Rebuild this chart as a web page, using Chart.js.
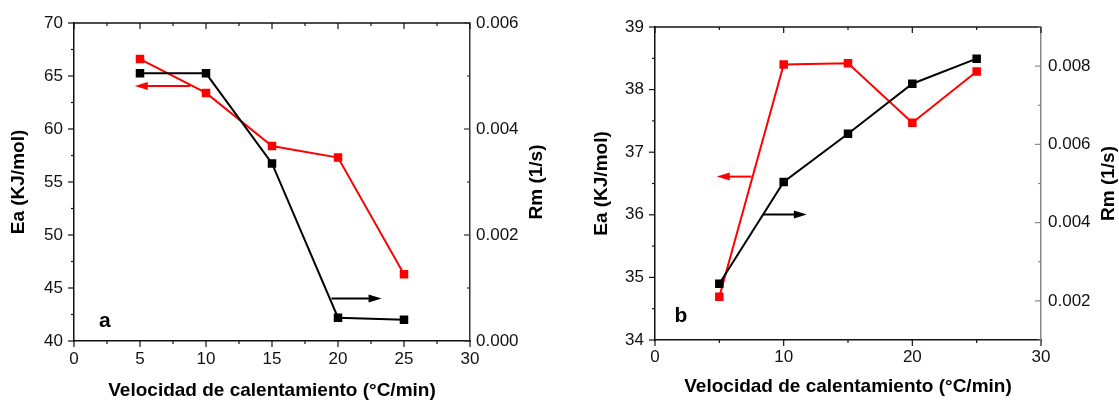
<!DOCTYPE html>
<html>
<head>
<meta charset="utf-8">
<script src="https://cdn.jsdelivr.net/npm/chart.js@4.4.1/dist/chart.umd.min.js"></script>
<style>
  body { margin: 0; background: #fff; }
  .panel { position: absolute; top: 0; height: 400px; }
  #boxA { left: 0; width: 560px; }
  #boxB { left: 560px; width: 559px; }
</style>
</head>
<body>
<div class="panel" id="boxA"><canvas id="chartA"></canvas></div>
<div class="panel" id="boxB"><canvas id="chartB"></canvas></div>
<script>
// heating rate (°C/min)
const rates = [5, 10, 15, 20, 25];

// panel a
const eaA = [66.6, 63.4, 58.4, 57.3, 46.3];
const rmA = [0.00505, 0.00505, 0.00335, 0.00044, 0.0004];
const rmTicksA = [0, 0.002, 0.004, 0.006];

// panel b
const eaB = [34.69, 38.40, 38.42, 37.47, 38.29];
const rmB = [0.00244, 0.00504, 0.00627, 0.00755, 0.00819];
const rmTicksB = [0.002, 0.004, 0.006, 0.008];

const xTitle = 'Velocidad de calentamiento (°C/min)';
const eaTitle = 'Ea (KJ/mol)';
const rmTitle = 'Rm (1/s)';

// arrows showing which axis each curve uses: [fromX, toX, y, axis]
const arrowsA = [[8.8, 4.6, 64.06, 'y'], [19.5, 23.3, 0.0008, 'y1']];
const arrowsB = [[7.5, 4.8, 36.61, 'y'], [8.4, 11.8, 0.00421, 'y1']];

// panel letter: [text, x, y on left axis]
const letterA = ['a', 2.33, 41.9];
const letterB = ['b', 2.02, 34.38];

const FONT = "'Liberation Sans', Arial, sans-serif";
Chart.defaults.font.family = FONT;
Chart.defaults.color = '#111';

function tickMarks(ctx, scale, edge, dir, horizontal) {
    const vals = scale.ticks.map(t => t.value);
    const step = vals[1] - vals[0];
    const minors = [];
    for (let v = vals[0] - step / 2; v <= scale.max + step * 1e-6; v += step) {
        if (v >= scale.min - step * 1e-6) minors.push(v);
    }
    const mark = (v, len) => {
        const p = scale.getPixelForValue(v);
        ctx.beginPath();
        if (horizontal) { ctx.moveTo(p, edge); ctx.lineTo(p, edge + dir * len); }
        else { ctx.moveTo(edge, p); ctx.lineTo(edge + dir * len, p); }
        ctx.stroke();
    };
    vals.forEach(v => mark(v, 6));
    minors.forEach(v => mark(v, 3));
}

function drawArrow(ctx, x0, x1, y, color) {
    const dir = Math.sign(x1 - x0);
    ctx.strokeStyle = color;
    ctx.fillStyle = color;
    ctx.lineWidth = 2;
    ctx.beginPath();
    ctx.moveTo(x0, y);
    ctx.lineTo(x1 - dir * 10, y);
    ctx.stroke();
    ctx.beginPath();
    ctx.moveTo(x1, y);
    ctx.lineTo(x1 - dir * 13, y - 4);
    ctx.lineTo(x1 - dir * 13, y + 4);
    ctx.closePath();
    ctx.fill();
}

const decor = {
    id: 'decor',
    afterDraw(chart, args, opts) {
        const { ctx, chartArea: a, scales } = chart;
        ctx.save();
        ctx.lineWidth = 1.5;
        ctx.strokeStyle = '#111';
        ctx.beginPath();
        ctx.moveTo(a.left, a.top);
        ctx.lineTo(a.right, a.top);
        ctx.stroke();
        ctx.lineWidth = 1.2;
        tickMarks(ctx, scales.x, a.bottom, 1, true);
        tickMarks(ctx, scales.x, a.top, 1, true);
        tickMarks(ctx, scales.y, a.left, -1, false);
        ctx.strokeStyle = opts.rightColor;
        tickMarks(ctx, scales.y1, a.right, -1, false);

        opts.arrows.forEach(([x0, x1, y, axis]) => {
            drawArrow(ctx, scales.x.getPixelForValue(x0), scales.x.getPixelForValue(x1),
                scales[axis].getPixelForValue(y), axis === 'y' ? '#ff0000' : '#000');
        });

        const [txt, lx, ly] = opts.letter;
        ctx.fillStyle = '#000';
        ctx.font = 'bold 21px ' + FONT;
        ctx.textAlign = 'center';
        ctx.textBaseline = 'middle';
        ctx.fillText(txt, scales.x.getPixelForValue(lx), scales.y.getPixelForValue(ly));

        // right axis title, read bottom to top
        ctx.font = 'bold 19px ' + FONT;
        ctx.translate(chart.width - opts.rightTitleOffset, (a.top + a.bottom) / 2);
        ctx.rotate(-Math.PI / 2);
        ctx.fillText(rmTitle, 0, 0);
        ctx.restore();
    }
};

function makeChart(id, p) {
    const titleFont = { size: 19, weight: 'bold', lineHeight: 1 };
    const tickFont = { size: 17, lineHeight: 1 };
    return new Chart(document.getElementById(id), {
        type: 'line',
        data: {
            datasets: [{
                label: 'Rm',
                data: rates.map((r, i) => ({ x: r, y: p.rm[i] })),
                yAxisID: 'y1',
                borderColor: '#000',
                backgroundColor: '#000',
                borderWidth: 2,
                pointStyle: 'rect',
                pointRadius: 4.6,
                tension: 0
            }, {
                label: 'Ea',
                data: rates.map((r, i) => ({ x: r, y: p.ea[i] })),
                yAxisID: 'y',
                borderColor: '#ff0000',
                backgroundColor: '#ff0000',
                borderWidth: 2,
                pointStyle: 'rect',
                pointRadius: 4.6,
                tension: 0
            }]
        },
        options: {
            responsive: true,
            maintainAspectRatio: false,
            animation: false,
            layout: { padding: { top: p.top, left: 0, right: 0, bottom: 0 } },
            plugins: {
                legend: { display: false },
                tooltip: { enabled: false },
                decor: { arrows: p.arrows, letter: p.letter, rightColor: p.rightColor, rightTitleOffset: p.rightTitleOffset }
            },
            scales: {
                x: {
                    type: 'linear',
                    position: 'bottom',
                    min: 0, max: 30,
                    grid: { display: false, drawTicks: false },
                    border: { display: true, color: '#111', width: 1.5 },
                    ticks: { stepSize: p.xStep, font: tickFont, padding: p.xPad, maxRotation: 0 },
                    title: { display: true, text: xTitle, font: titleFont, color: '#000', padding: { top: 0, bottom: p.xTitlePad } },
                    afterFit: s => { s.height = p.xHeight; }
                },
                y: {
                    position: 'left',
                    min: p.eaMin, max: p.eaMax,
                    grid: { display: false, drawTicks: false },
                    border: { display: true, color: '#111', width: 1.5 },
                    ticks: { stepSize: p.eaStep, font: tickFont, padding: 11 },
                    title: { display: true, text: eaTitle, font: titleFont, color: '#000', padding: { top: p.leftTitlePad, bottom: 0 } },
                    afterFit: s => { s.width = p.leftWidth; }
                },
                y1: {
                    position: 'right',
                    min: p.rmMin, max: p.rmMax,
                    grid: { display: false, drawTicks: false },
                    border: { display: true, color: p.rightColor, width: 1.5 },
                    ticks: { font: tickFont, padding: p.rightPad, callback: v => v.toFixed(3) },
                    afterBuildTicks: s => { s.ticks = p.rmTicks.map(v => ({ value: v })); },
                    afterFit: s => { s.width = p.rightWidth; }
                }
            }
        },
        plugins: [decor]
    });
}

makeChart('chartA', {
    ea: eaA, rm: rmA, rmTicks: rmTicksA, arrows: arrowsA, letter: letterA,
    top: 23, xHeight: 59, leftWidth: 74, rightWidth: 90,
    xStep: 5, xPad: 9.5, xTitlePad: 0,
    eaMin: 40, eaMax: 70, eaStep: 5,
    rmMin: 0, rmMax: 0.006,
    leftTitlePad: 9, rightTitleOffset: 23, rightPad: 6,
    rightColor: '#333'
});

makeChart('chartB', {
    ea: eaB, rm: rmB, rmTicks: rmTicksB, arrows: arrowsB, letter: letterB,
    top: 27, xHeight: 60, leftWidth: 95, rightWidth: 78,
    xStep: 10, xPad: 8.5, xTitlePad: 3.5,
    eaMin: 34, eaMax: 39, eaStep: 1,
    rmMin: 0.001, rmMax: 0.009,
    leftTitlePad: 32.5, rightTitleOffset: 10, rightPad: 7,
    rightColor: '#888'
});
</script>
</body>
</html>
